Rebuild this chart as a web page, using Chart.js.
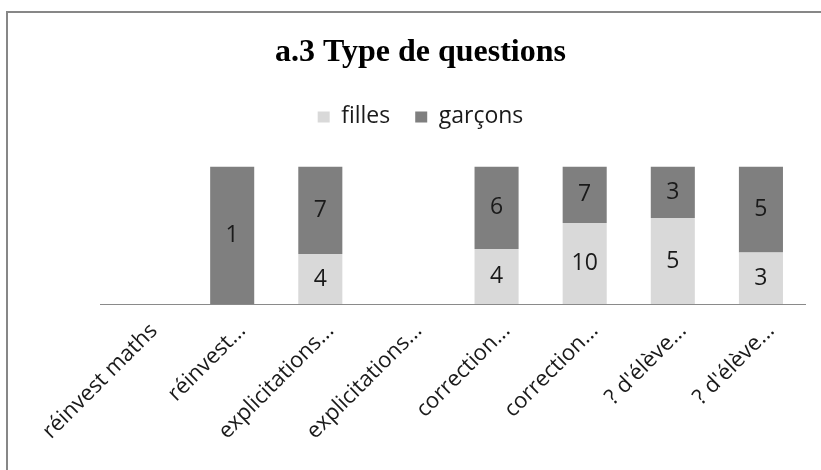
<!DOCTYPE html>
<html>
<head>
<meta charset="utf-8">
<script src="https://cdn.jsdelivr.net/npm/chart.js@4"></script>
<style>
  body { margin: 0; background: #fff; overflow: hidden; }
  #wrap { position: relative; width: 821px; height: 470px; overflow: hidden; }
  #frame { position: absolute; left: 6px; top: 11px; width: 900px; height: 600px;
           border-left: 2px solid #878787; border-top: 2px solid #878787; }
  #wrap canvas { position: absolute; left: 0; top: 0; }
</style>
</head>
<body>
<div id="wrap">
  <div id="frame"></div>
  <canvas id="typeChart"></canvas>
</div>
<script>
const categories = ['réinvest maths', 'réinvest...', 'explicitations...', 'explicitations...',
                    'correction...', 'correction...', "? d'élève...", "? d'élève..."];
const filles = [0, 0, 4, 0, 4, 10, 5, 3];
const garcons = [0, 1, 7, 0, 6, 7, 3, 5];

// 100% stacked: each column is split in proportion, labels show the counts
const totals = categories.map((c, i) => filles[i] + garcons[i]);
const pct = (arr) => arr.map((v, i) => totals[i] ? v / totals[i] * 100 : 0);

const sansFont = "'Open Sans', sans-serif";

const valueLabels = {
    id: 'valueLabels',
    afterDatasetsDraw(chart) {
        const ctx = chart.ctx;
        ctx.save();
        ctx.font = '23px ' + sansFont;
        ctx.fillStyle = '#1a1a1a';
        ctx.textAlign = 'center';
        ctx.textBaseline = 'middle';
        chart.data.datasets.forEach((ds, di) => {
            chart.getDatasetMeta(di).data.forEach((bar, i) => {
                const v = ds.raw[i];
                if (!v) return;
                ctx.fillText(v, bar.x, (bar.y + bar.base) / 2);
            });
        });
        ctx.restore();
    }
};

// extra room under the legend
const legendGap = {
    id: 'legendGap',
    beforeInit(chart) {
        const fit = chart.legend.fit;
        chart.legend.fit = function () {
            fit.bind(chart.legend)();
            this.height += 28;
        };
    }
};

const ctx = document.getElementById('typeChart').getContext('2d');
new Chart(ctx, {
    type: 'bar',
    data: {
        labels: categories,
        datasets: [{
            label: 'filles',
            data: pct(filles),
            raw: filles,
            backgroundColor: '#d9d9d9'
        }, {
            label: 'garçons',
            data: pct(garcons),
            raw: garcons,
            backgroundColor: '#7f7f7f'
        }]
    },
    options: {
        responsive: true,
        maintainAspectRatio: false,
        animation: false,
        layout: { padding: { top: 12, left: 20, right: 0, bottom: 0 } },
        datasets: { bar: { categoryPercentage: 0.5, barPercentage: 1 } },
        scales: {
            x: {
                stacked: true,
                grid: { display: false, drawTicks: false },
                border: { display: true, color: '#8a8a8a', width: 1 },
                ticks: {
                    autoSkip: false,
                    minRotation: 45,
                    maxRotation: 45,
                    padding: 14,
                    labelOffset: 10,
                    color: '#1a1a1a',
                    font: { family: sansFont, size: 22 }
                },
                afterFit(scale) {
                    // plot area runs from x=100 to x=805
                    scale.paddingLeft = 100;
                    scale.paddingRight = 16;
                    scale.height = 166;
                }
            },
            y: { stacked: true, display: false, min: 0, max: 100 }
        },
        plugins: {
            title: {
                display: true,
                text: 'a.3 Type de questions',
                color: '#000',
                font: { family: "'Liberation Serif', serif", size: 32, weight: 'bold' },
                padding: { top: 22, bottom: 8 }
            },
            legend: {
                position: 'top',
                labels: {
                    boxWidth: 12,
                    boxHeight: 11,
                    padding: 25,
                    color: '#1a1a1a',
                    font: { family: sansFont, size: 23 }
                }
            },
            tooltip: { enabled: false }
        }
    },
    plugins: [valueLabels, legendGap]
});
</script>
</body>
</html>
